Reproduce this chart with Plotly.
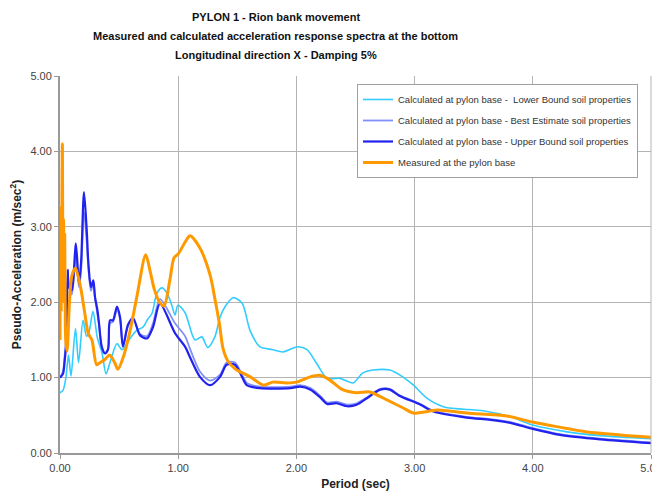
import plotly.graph_objects as go

# ---- data (period in sec, pseudo-acceleration in m/sec^2) ----
lb_x = [0.0, 0.025, 0.05, 0.072, 0.093, 0.131, 0.157, 0.195, 0.224, 0.245, 0.279, 0.317, 0.355, 0.39,
        0.423, 0.482, 0.525, 0.592, 0.651, 0.702, 0.745, 0.778, 0.82, 0.863, 0.905, 0.948, 0.973,
        0.998, 1.058, 1.142, 1.2, 1.25, 1.31, 1.354, 1.396, 1.464, 1.54, 1.607, 1.69, 1.8, 1.887,
        2.01, 2.09, 2.17, 2.26, 2.37, 2.48, 2.56, 2.65, 2.79, 2.88, 2.99, 3.11, 3.25, 3.58, 3.81,
        4.0, 4.29, 4.57, 5.0]
lb_y = [0.8, 0.83, 1.0, 1.3, 1.02, 1.65, 1.2, 1.76, 1.55, 1.6, 1.88, 1.52, 1.33, 1.05,
        1.2, 1.45, 1.37, 1.52, 1.63, 1.67, 1.78, 1.85, 2.12, 2.19, 2.12, 1.95, 1.83,
        1.96, 1.86, 1.5, 1.54, 1.4, 1.54, 1.8, 1.94, 2.06, 1.99, 1.63, 1.41, 1.37, 1.34,
        1.41, 1.37, 1.19, 0.99, 0.99, 0.93, 1.06, 1.1, 1.1, 1.03, 0.9, 0.72, 0.61, 0.56, 0.48,
        0.37, 0.28, 0.23, 0.19]

be_x = [0.0, 0.025, 0.04, 0.055, 0.065, 0.076, 0.1, 0.118, 0.133, 0.144, 0.16, 0.178, 0.203, 0.226,
        0.24, 0.262, 0.282, 0.296, 0.316, 0.33, 0.353, 0.38, 0.406, 0.423, 0.448, 0.482, 0.508,
        0.533, 0.575, 0.618, 0.677, 0.736, 0.787, 0.846, 0.973, 1.058, 1.1, 1.184, 1.27, 1.354,
        1.41, 1.48, 1.54, 1.58, 1.69, 1.95, 2.03, 2.12, 2.2, 2.26, 2.34, 2.43, 2.51, 2.6, 2.71,
        2.79, 2.87, 3.05, 3.16, 3.44, 3.64, 3.81, 4.0, 4.23, 4.57, 5.0]
be_y = [1.0, 1.08, 1.3, 1.6, 2.3, 2.25, 2.1, 2.35, 2.6, 2.5, 2.2, 2.4, 3.2, 2.8,
        2.45, 2.15, 2.25, 2.05, 1.85, 1.7, 1.42, 1.33, 1.38, 1.72, 1.74, 1.9, 1.78,
        1.42, 1.68, 1.78, 1.58, 1.55, 1.72, 2.04, 1.72, 1.55, 1.38, 1.08, 0.96, 1.04,
        1.2, 1.2, 1.04, 0.93, 0.88, 0.88, 0.9, 0.86, 0.76, 0.67, 0.68, 0.64, 0.66, 0.74, 0.85,
        0.85, 0.77, 0.65, 0.56, 0.48, 0.45, 0.41, 0.33, 0.25, 0.19, 0.14]

ub_x = [0.0, 0.025, 0.04, 0.055, 0.065, 0.076, 0.1, 0.118, 0.133, 0.144, 0.16, 0.178, 0.203, 0.226,
        0.24, 0.262, 0.282, 0.296, 0.316, 0.33, 0.353, 0.38, 0.406, 0.423, 0.448, 0.482, 0.508,
        0.533, 0.575, 0.618, 0.677, 0.736, 0.787, 0.846, 0.973, 1.058, 1.1, 1.184, 1.27, 1.354,
        1.41, 1.48, 1.54, 1.58, 1.69, 1.95, 2.03, 2.12, 2.2, 2.26, 2.34, 2.43, 2.51, 2.6, 2.71,
        2.79, 2.87, 3.05, 3.16, 3.44, 3.64, 3.81, 4.0, 4.23, 4.57, 5.0]
ub_y = [1.0, 1.05, 1.23, 1.5, 2.43, 2.2, 2.16, 2.43, 2.78, 2.6, 2.25, 2.52, 3.46, 2.96,
        2.52, 2.2, 2.29, 2.07, 1.9, 1.72, 1.41, 1.32, 1.37, 1.76, 1.76, 1.94, 1.8,
        1.41, 1.7, 1.79, 1.56, 1.52, 1.67, 1.98, 1.59, 1.41, 1.27, 1.01, 0.9, 1.01,
        1.17, 1.17, 1.01, 0.9, 0.86, 0.86, 0.88, 0.84, 0.74, 0.65, 0.66, 0.62, 0.64, 0.73, 0.84,
        0.84, 0.76, 0.64, 0.55, 0.47, 0.44, 0.4, 0.32, 0.24, 0.18, 0.13]

ms_x = [0.0, 0.005, 0.01, 0.015, 0.02, 0.025, 0.03, 0.035, 0.04, 0.045, 0.05, 0.06, 0.08, 0.1,
        0.13, 0.16, 0.18, 0.21, 0.24, 0.27, 0.31, 0.34, 0.38, 0.42, 0.465, 0.49, 0.535, 0.59,
        0.65, 0.725, 0.76, 0.8, 0.846, 0.88, 0.93, 0.965, 1.0, 1.06, 1.1, 1.18, 1.27, 1.31,
        1.35, 1.38, 1.42, 1.48, 1.52, 1.61, 1.72, 1.8, 1.92, 2.0, 2.12, 2.2, 2.28, 2.39, 2.51,
        2.62, 2.77, 2.9, 2.99, 3.07, 3.19, 3.44, 3.78, 4.0, 4.2, 4.46, 4.74, 5.0]
ms_y = [1.5, 3.25, 1.9, 3.0, 4.1, 2.4, 3.1, 2.0, 2.9, 1.7, 1.46, 1.35, 2.0, 2.35,
        2.45, 2.3, 2.15, 1.85, 1.58, 1.5, 1.17, 1.2, 1.24, 1.3, 1.19, 1.11, 1.27, 1.6,
        2.07, 2.63, 2.43, 2.16, 1.99, 1.95, 2.3, 2.59, 2.64, 2.8, 2.88, 2.73, 2.36, 2.05,
        1.7, 1.38, 1.22, 1.12, 1.08, 1.01, 0.9, 0.94, 0.93, 0.94, 1.01, 1.03, 0.97, 0.84, 0.8,
        0.81, 0.7, 0.6, 0.53, 0.54, 0.57, 0.53, 0.49, 0.41, 0.35, 0.28, 0.24, 0.21]

names = [
    "Calculated at pylon base -  Lower Bound soil properties",
    "Calculated at pylon base - Best Estimate soil properties",
    "Calculated at pylon base - Upper Bound soil properties",
    "Measured at the pylon base",
]
title_lines = [
    "PYLON 1 - Rion bank movement",
    "Measured and calculated acceleration response spectra at the bottom",
    "Longitudinal direction X - Damping 5%",
]
colors = ["#33CCFF", "#8090F8", "#2222EE", "#FF9900"]
widths = [1.6, 1.8, 2.2, 3.0]
xs = [lb_x, be_x, ub_x, ms_x]
ys = [lb_y, be_y, ub_y, ms_y]

fig = go.Figure()
for i in range(4):
    fig.add_trace(go.Scatter(
        x=xs[i], y=ys[i], mode="lines", name=names[i],
        line=dict(color=colors[i], width=widths[i], shape="spline", smoothing=0.8),
        legendgroup=str(i),
    ))

# page pixel geometry of the plot area (page has an 8px body margin)
plot_left, plot_right, plot_top, plot_bottom = 60, 651, 76, 453
pw, ph = plot_right - plot_left, plot_bottom - plot_top

for line, py in zip(title_lines, [17, 36, 55]):
    fig.add_annotation(
        text="<b>" + line + "</b>", xref="paper", yref="paper",
        x=(275.5 - plot_left) / pw, y=(plot_bottom - py) / ph,
        xanchor="center", yanchor="middle", showarrow=False,
        font=dict(family="Liberation Sans, Arial, sans-serif", size=11, color="#111111"),
    )

grid = "#B4B4B4"
fig.update_layout(
    width=660, height=497,
    margin=dict(l=52, r=17, t=68, b=52, autoexpand=False),
    paper_bgcolor="white", plot_bgcolor="white",
    font=dict(family="Liberation Sans, Arial, sans-serif", color="#333333"),
    xaxis=dict(
        range=[0, 5], tickvals=[0, 1, 2, 3, 4, 5], tickformat=".2f",
        showgrid=True, gridcolor=grid, gridwidth=1, automargin=False,
        showline=True, linecolor="#999999", linewidth=2, zeroline=False,
        ticks="outside", ticklen=4, tickcolor="#999999",
        tickfont=dict(size=11, color="#444444"),
        title=dict(text="<b>Period (sec)</b>", font=dict(size=12, color="#222222"), standoff=6),
    ),
    yaxis=dict(
        range=[0, 5], tickvals=[0, 1, 2, 3, 4, 5], tickformat=".2f",
        showgrid=True, gridcolor=grid, gridwidth=1, automargin=False,
        showline=True, linecolor="#999999", linewidth=2, zeroline=False,
        ticks="outside", ticklen=4, tickcolor="#999999",
        tickfont=dict(size=11, color="#444444"),
        title=dict(text="<b>Pseudo-Acceleration (m/sec<sup>2</sup>)</b>", font=dict(size=12, color="#222222"), standoff=8),
    ),
    legend=dict(
        x=(357 - plot_left) / pw, y=(plot_bottom - 84) / ph, xanchor="left", yanchor="top",
        bgcolor="white", bordercolor="#A0A0A0", borderwidth=1,
        font=dict(size=9.5, color="#333333"),
        tracegroupgap=2, itemwidth=30,
    ),
)
fig.add_shape(type="line", xref="paper", yref="paper", x0=1, x1=1, y0=0, y1=1,
              line=dict(color=grid, width=1))

fig.write_html("out.html")
